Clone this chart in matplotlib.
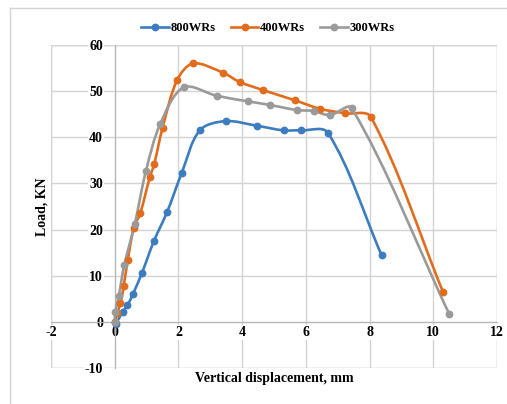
import matplotlib
matplotlib.use("Agg")

import matplotlib.pyplot as plt
import numpy as np
from matplotlib.lines import Line2D
from matplotlib.patches import PathPatch
from matplotlib.path import Path

plt.rcParams["axes.unicode_minus"] = False

# data
X_800 = [0.0, 0.03, 0.25, 0.40, 0.57, 0.85, 1.23, 1.65, 2.10, 2.67, 3.48, 4.46, 5.30, 5.85, 6.69, 8.38]
Y_800 = [0.0, -0.4, 2.2, 3.6, 6.0, 10.5, 17.5, 23.9, 32.2, 41.5, 43.5, 42.5, 41.5, 41.5, 41.0, 14.4]

X_400 = [0.0, 0.08, 0.18, 0.28, 0.41, 0.60, 0.80, 1.10, 1.24, 1.50, 1.96, 2.46, 3.40, 3.92, 4.67, 5.66, 6.43, 7.23, 8.04, 10.31]
Y_400 = [0.0, 2.0, 4.0, 7.7, 13.4, 20.4, 23.5, 31.3, 34.2, 42.0, 52.4, 56.0, 54.0, 52.0, 50.2, 48.0, 46.2, 45.2, 44.4, 6.4]

X_300 = [0.0, 0.02, 0.13, 0.30, 0.63, 0.98, 1.43, 2.16, 3.20, 4.17, 4.88, 5.72, 6.24, 6.76, 7.44, 10.50]
Y_300 = [0.0, 2.2, 5.7, 12.3, 21.2, 32.7, 42.9, 50.8, 49.0, 47.8, 47.0, 45.9, 45.7, 44.8, 46.3, 1.7]

SERIES_LABELS = ["800WRs", "400WRs", "300WRs"]
COLORS = ["#3c7dc0", "#e36c1c", "#9a9a9a"]

X_TICKS = [-2, 0, 2, 4, 6, 8, 10, 12]
Y_TICKS = [-10, 0, 10, 20, 30, 40, 50, 60]

FONT = "Liberation Serif"
GRID_COLOR = "#d4d4d4"
AXIS_COLOR = "#b4b4b4"
LW = 1.9
MS = 4.6

# pixels per data unit, used so the smoothing looks right on screen
PX_X = 31.9
PX_Y = 4.61


def smooth_path(xs, ys):
    # Excel-like smoothed line: cubic Bezier with tangents scaled by segment length
    pts = np.column_stack([xs, ys]) * [PX_X, PX_Y]
    n = len(pts)
    verts = [pts[0]]
    codes = [Path.MOVETO]
    for i in range(n - 1):
        p0 = pts[max(i - 1, 0)]
        p1 = pts[i]
        p2 = pts[i + 1]
        p3 = pts[min(i + 2, n - 1)]
        d01 = np.hypot(*(p1 - p0))
        d12 = np.hypot(*(p2 - p1))
        d23 = np.hypot(*(p3 - p2))
        c1 = p1 + (p2 - p0) * d12 / max(d01 + d12, 1e-9) / 3.0
        c2 = p2 - (p3 - p1) * d12 / max(d12 + d23, 1e-9) / 3.0
        verts += [c1, c2, p2]
        codes += [Path.CURVE4] * 3
    verts = np.array(verts) / [PX_X, PX_Y]
    return Path(verts, codes)


fig = plt.figure(figsize=(5.07, 4.04), dpi=100)
ax = fig.add_axes([51 / 507, 1 - 368 / 404, 446 / 507, 323 / 404])

for xs, ys, color in zip([X_800, X_400, X_300], [Y_800, Y_400, Y_300], COLORS):
    ax.add_patch(PathPatch(smooth_path(xs, ys), facecolor="none", edgecolor=color,
                           lw=LW, capstyle="round", joinstyle="round", zorder=3))
    ax.plot(xs, ys, "o", color=color, ms=MS, zorder=4)

ax.set_xlim(-2, 12)
ax.set_ylim(-10, 60)
ax.set_xticks(X_TICKS)
ax.set_yticks(Y_TICKS)
ax.grid(True, color=GRID_COLOR, lw=1.0, zorder=0)
ax.set_axisbelow(True)

ax.spines["left"].set_position(("data", 0))
ax.spines["bottom"].set_position(("data", 0))
ax.spines["left"].set_color(AXIS_COLOR)
ax.spines["bottom"].set_color(AXIS_COLOR)
ax.spines["left"].set_zorder(0.8)
ax.spines["bottom"].set_zorder(0.8)
ax.spines["top"].set_visible(False)
ax.spines["right"].set_visible(False)
for xv in (-2, 12):
    ax.axvline(xv, color=GRID_COLOR, lw=1.0, zorder=0.5)
for yv in (-10, 60):
    ax.axhline(yv, color=GRID_COLOR, lw=1.0, zorder=0.5)

ax.tick_params(axis="both", length=0, labelsize=10)
ax.tick_params(axis="y", pad=8.5)
ax.tick_params(axis="x", pad=3.2)
for lab in ax.get_xticklabels() + ax.get_yticklabels():
    lab.set_fontfamily(FONT)
    lab.set_fontweight("bold")
    lab.set_bbox(dict(facecolor="white", edgecolor="none", pad=0.6))

ax.text(0.5, -0.034, "Vertical displacement, mm", transform=ax.transAxes,
        ha="center", va="center", fontsize=10, fontfamily=FONT, fontweight="bold")
ax.text(-0.02, 0.5, "Load, KN", transform=ax.transAxes, rotation=90,
        ha="center", va="center", fontsize=10, fontfamily=FONT, fontweight="bold")

handles = [Line2D([], [], color=c, lw=LW, marker="o", ms=MS) for c in COLORS]
fig.legend(handles, SERIES_LABELS, loc="center", bbox_to_anchor=(268 / 507, 1 - 28 / 404),
           ncol=3, frameon=False, handlelength=2.2, handletextpad=0.15, columnspacing=1.2,
           prop=dict(family=FONT, weight="bold", size=9))

# outer chart border (left and top edges visible in the reference)
fig.add_artist(Line2D([10 / 507, 10 / 507], [0, 1 - 8 / 404], transform=fig.transFigure,
                      color=GRID_COLOR, lw=1.0))
fig.add_artist(Line2D([10 / 507, 1], [1 - 8 / 404, 1 - 8 / 404], transform=fig.transFigure,
                      color=GRID_COLOR, lw=1.0))

fig.savefig("out.png", dpi=100)
